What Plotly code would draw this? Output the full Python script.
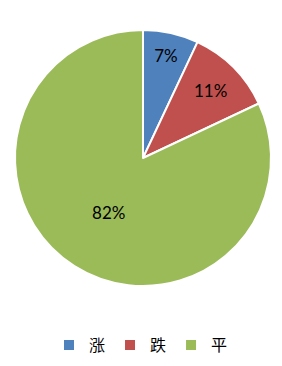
import plotly.graph_objects as go

labels = ["涨", "跌", "平"]
values = [7, 11, 82]
colors = ["#4F81BD", "#C0504D", "#9BBB59"]

W, H = 282, 366
fig = go.Figure(go.Pie(
    labels=labels, values=values, sort=False, direction="clockwise", rotation=0,
    marker=dict(colors=colors, line=dict(color="white", width=2)),
    texttemplate="%{value}%", textposition="inside", insidetextorientation="horizontal",
    textfont=dict(family="Lato, Liberation Sans, sans-serif", size=17, color="black"),
    domain=dict(x=[15 / W, 271 / W], y=[1 - 286 / H, 1 - 30 / H]),
    hoverinfo="skip",
))
fig.update_layout(
    width=W, height=H, margin=dict(l=0, r=0, t=0, b=0),
    paper_bgcolor="white", plot_bgcolor="white",
    legend=dict(orientation="h", x=0.5, xanchor="center", y=1 - 345 / H, yanchor="middle",
                font=dict(family="Noto Sans CJK SC", size=16, color="black"),
                itemwidth=30, traceorder="normal"),
)
fig.write_html("out.html")
